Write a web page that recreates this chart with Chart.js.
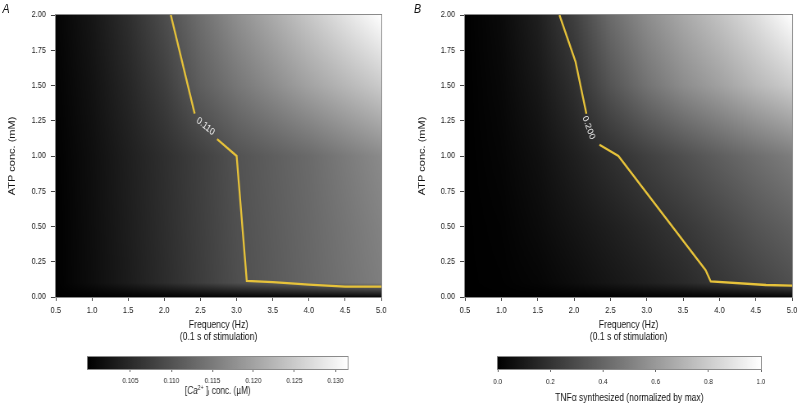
<!DOCTYPE html>
<html>
<head>
<meta charset="utf-8">
<script src="https://cdn.jsdelivr.net/npm/chart.js@4.4.1/dist/chart.umd.min.js"></script>
<style>
  html, body { margin: 0; padding: 0; background: #fff; overflow: hidden; }
  /* the figure is squeezed horizontally, like the source image */
  #wrap { position: relative; width: 976px; height: 404px; transform: scaleX(0.82); transform-origin: 0 0; }
  .box { position: absolute; }
  .tag { position: absolute; font: italic 13px 'Liberation Sans', Arial, sans-serif; color: #111; }
</style>
</head>
<body>
<div id="wrap">
  <div class="tag" style="left:3px;top:1px">A</div>
  <div class="tag" style="left:505px;top:1px">B</div>
  <div class="box" style="left:0;top:0;width:488px;height:345px"><canvas id="heatA" width="488" height="345"></canvas></div>
  <div class="box" style="left:488px;top:0;width:488px;height:345px"><canvas id="heatB" width="488" height="345"></canvas></div>
  <div class="box" style="left:73px;top:345px;width:390px;height:59px"><canvas id="barA" width="390" height="59"></canvas></div>
  <div class="box" style="left:537px;top:345px;width:439px;height:59px"><canvas id="barB" width="439" height="59"></canvas></div>
</div>
<script>
// grid axes
var freq = [0.5, 1.0, 1.5, 2.0, 2.5, 3.0, 3.5, 4.0, 4.5, 5.0];
var atp = [0, 0.1, 0.5, 1.0, 1.5, 2.0];

// [Ca2+]i (uM), one row per ATP value
var caAtp0   = [0.0998, 0.0999, 0.1000, 0.1001, 0.1002, 0.1003, 0.1004, 0.1005, 0.1006, 0.1008];
var caAtp01  = [0.0998, 0.1014, 0.1032, 0.1052, 0.1073, 0.1095, 0.1110, 0.1125, 0.1140, 0.1155];
var caAtp05  = [0.0998, 0.1015, 0.1034, 0.1054, 0.1075, 0.1097, 0.1112, 0.1127, 0.1143, 0.1160];
var caAtp10  = [0.0999, 0.1016, 0.1036, 0.1056, 0.1077, 0.1100, 0.1115, 0.1130, 0.1150, 0.1170];
var caAtp15  = [0.1001, 0.1020, 0.1045, 0.1075, 0.1115, 0.1145, 0.1172, 0.1200, 0.1225, 0.1250];
var caAtp20  = [0.1003, 0.1025, 0.1055, 0.1093, 0.1135, 0.1175, 0.1210, 0.1245, 0.1280, 0.1315];

// TNFa synthesized (normalized by max)
var tnfAtp0  = [0, 0, 0, 0.002, 0.004, 0.006, 0.008, 0.010, 0.015, 0.020];
var tnfAtp01 = [0, 0.005, 0.020, 0.050, 0.085, 0.120, 0.160, 0.210, 0.260, 0.310];
var tnfAtp05 = [0, 0.010, 0.040, 0.080, 0.120, 0.165, 0.215, 0.270, 0.330, 0.380];
var tnfAtp10 = [0, 0.020, 0.060, 0.120, 0.185, 0.250, 0.310, 0.370, 0.430, 0.490];
var tnfAtp15 = [0, 0.030, 0.090, 0.185, 0.330, 0.450, 0.550, 0.630, 0.720, 0.800];
var tnfAtp20 = [0, 0.040, 0.120, 0.250, 0.420, 0.550, 0.660, 0.760, 0.870, 1.000];

// contour lines (freq, ATP), split where the label sits
var contourA1 = [[2.09, 2.0], [2.42, 1.30]];
var contourA2 = [[2.73, 1.12], [3.0, 1.0], [3.14, 0.115], [3.5, 0.105], [4.0, 0.088], [4.5, 0.073], [5.0, 0.073]];
var contourB1 = [[1.80, 2.0], [2.02, 1.67], [2.17, 1.30]];
var contourB2 = [[2.35, 1.08], [2.61, 1.0], [3.81, 0.19], [3.88, 0.11], [4.64, 0.085], [5.0, 0.08]];

// tick labels
var freqTicks = [0.5, 1.0, 1.5, 2.0, 2.5, 3.0, 3.5, 4.0, 4.5, 5.0];
var atpTicks = [0, 0.25, 0.5, 0.75, 1.0, 1.25, 1.5, 1.75, 2.0];
var caTicks = [0.105, 0.110, 0.115, 0.120, 0.125, 0.130];
var tnfTicks = [0, 0.2, 0.4, 0.6, 0.8, 1.0];
var caRange = [0.0998, 0.1315];
var tnfRange = [0, 1];

var FONT = "'Liberation Sans', Arial, sans-serif";
var LINE = '#e6c23a';
Chart.defaults.font.family = FONT;
Chart.defaults.color = '#222';

function grey(v, range) {
    var t = (v - range[0]) / (range[1] - range[0]);
    t = Math.max(0, Math.min(1, t));
    return Math.round(t * 255);
}

function findCell(arr, v) {
    for (var i = 0; i < arr.length - 2; i++) {
        if (v < arr[i + 1]) return i;
    }
    return arr.length - 2;
}

// bilinear shaded field between grid nodes
var heatPlugin = {
    id: 'heat',
    beforeDatasetsDraw: function (chart, args, opts) {
        var ctx = chart.ctx, a = chart.chartArea, xs = chart.scales.x, ys = chart.scales.y;
        var x0 = Math.round(a.left), y0 = Math.round(a.top);
        var w = Math.round(a.right) - x0, h = Math.round(a.bottom) - y0;
        var img = ctx.createImageData(w, h);
        var rows = opts.rows;
        for (var py = 0; py < h; py++) {
            var yv = ys.getValueForPixel(y0 + py + 0.5);
            yv = Math.max(atp[0], Math.min(atp[atp.length - 1], yv));
            var j = findCell(atp, yv);
            var ty = (yv - atp[j]) / (atp[j + 1] - atp[j]);
            for (var px = 0; px < w; px++) {
                var xv = xs.getValueForPixel(x0 + px + 0.5);
                xv = Math.max(freq[0], Math.min(freq[freq.length - 1], xv));
                var i = findCell(freq, xv);
                var tx = (xv - freq[i]) / (freq[i + 1] - freq[i]);
                var v = (rows[j][i] * (1 - tx) + rows[j][i + 1] * tx) * (1 - ty) +
                        (rows[j + 1][i] * (1 - tx) + rows[j + 1][i + 1] * tx) * ty;
                var g = grey(v, opts.range);
                var k = (py * w + px) * 4;
                img.data[k] = g; img.data[k + 1] = g; img.data[k + 2] = g; img.data[k + 3] = 255;
            }
        }
        ctx.putImageData(img, x0, y0);
    },
    afterDatasetsDraw: function (chart, args, opts) {
        var ctx = chart.ctx, a = chart.chartArea;
        var lab = opts.label;
        ctx.save();
        ctx.translate(chart.scales.x.getPixelForValue(lab.x), chart.scales.y.getPixelForValue(lab.y));
        ctx.rotate(lab.angle * Math.PI / 180);
        ctx.font = '10px ' + FONT;
        ctx.fillStyle = '#f2f2f2';
        ctx.textAlign = 'center';
        ctx.textBaseline = 'middle';
        ctx.fillText(lab.text, 0, 0);
        ctx.restore();
        ctx.save();
        ctx.strokeStyle = '#8a8a8a';
        ctx.lineWidth = 1;
        ctx.strokeRect(a.left - 0.5, a.top - 0.5, a.right - a.left + 1, a.bottom - a.top + 1);
        ctx.restore();
    }
};

// gradient bar for the colour scales
var barPlugin = {
    id: 'bar',
    beforeDatasetsDraw: function (chart, args, opts) {
        var ctx = chart.ctx, a = chart.chartArea, xs = chart.scales.x;
        var l = xs.getPixelForValue(opts.range[0]), r = xs.getPixelForValue(opts.range[1]);
        var grad = ctx.createLinearGradient(l, 0, r, 0);
        grad.addColorStop(0, '#000');
        grad.addColorStop(1, '#fff');
        ctx.save();
        ctx.fillStyle = grad;
        ctx.fillRect(l, a.top, r - l, a.bottom - a.top);
        ctx.strokeStyle = '#8a8a8a';
        ctx.lineWidth = 1;
        ctx.strokeRect(l - 0.5, a.top - 0.5, r - l + 1, a.bottom - a.top + 1);
        ctx.restore();
    },
    afterDraw: function (chart, args, opts) {
        if (!opts.caTitle) return;
        // [Ca2+]i conc. (uM) with italic / super / subscripts
        var ctx = chart.ctx, a = chart.chartArea;
        var parts = [
            ['[', '10px ' + FONT, 0],
            ['Ca', 'italic 10px ' + FONT, 0],
            ['2+', '6.5px ' + FONT, -3],
            [' ]', '10px ' + FONT, 0],
            ['i', '6.5px ' + FONT, 2.5],
            [' conc. (\u00b5M)', '10px ' + FONT, 0]
        ];
        ctx.save();
        ctx.fillStyle = '#222';
        ctx.textBaseline = 'middle';
        ctx.textAlign = 'left';
        var total = 0;
        parts.forEach(function (p) { ctx.font = p[1]; total += ctx.measureText(p[0]).width; });
        var x = (a.left + a.right) / 2 - total / 2, y = 46;
        parts.forEach(function (p) {
            ctx.font = p[1];
            ctx.fillText(p[0], x, y + p[2]);
            x += ctx.measureText(p[0]).width;
        });
        ctx.restore();
    }
};

function setTicks(arr) {
    return function (scale) {
        scale.ticks = arr.map(function (v) { return { value: v }; });
    };
}

function toPts(arr) {
    return arr.map(function (p) { return { x: p[0], y: p[1] }; });
}

function lineSet(arr) {
    return {
        data: toPts(arr),
        showLine: true,
        borderColor: LINE,
        borderWidth: 2.3,
        pointRadius: 0,
        tension: 0
    };
}

function heatChart(id, rows, range, parts, label, axisW, rightPad, titlePad) {
    return new Chart(document.getElementById(id), {
        type: 'scatter',
        data: { datasets: parts.map(lineSet) },
        options: {
            responsive: false,
            animation: false,
            events: [],
            layout: { padding: { left: 0, right: rightPad, top: 15, bottom: 0 } },
            plugins: {
                legend: { display: false },
                tooltip: { enabled: false },
                heat: { rows: rows, range: range, label: label }
            },
            scales: {
                x: {
                    type: 'linear', min: 0.5, max: 5.0,
                    afterBuildTicks: setTicks(freqTicks),
                    afterFit: function (s) { s.height = 48; },
                    grid: { display: true, drawOnChartArea: false, drawTicks: true, tickLength: 4, color: '#444' },
                    border: { display: false },
                    ticks: { padding: 3.5, font: { size: 9.3 }, maxRotation: 0, autoSkip: false,
                        callback: function (v) { return v.toFixed(1); } },
                    title: { display: true, text: ['Frequency (Hz)', '(0.1 s of stimulation)'], color: '#111',
                        font: { size: 10.5, lineHeight: 1.15 }, padding: { top: 0, bottom: 2 } }
                },
                y: {
                    type: 'linear', min: 0, max: 2.0,
                    afterBuildTicks: setTicks(atpTicks),
                    afterFit: function (s) { s.width = axisW; },
                    grid: { display: true, drawOnChartArea: false, drawTicks: true, tickLength: 6, color: '#444' },
                    border: { display: false },
                    ticks: { padding: 6, font: { size: 9 }, autoSkip: false,
                        callback: function (v) { return v.toFixed(2); } },
                    title: { display: true, text: 'ATP conc. (mM)', color: '#111',
                        font: { size: 11, lineHeight: 1.0 }, padding: { top: titlePad, bottom: 0 } }
                }
            }
        },
        plugins: [heatPlugin]
    });
}

function barChart(id, range, ticks, decimals, padL, padR, tickPad, title) {
    return new Chart(document.getElementById(id), {
        type: 'scatter',
        data: { datasets: [{ data: [] }] },
        options: {
            responsive: false,
            animation: false,
            events: [],
            layout: { padding: { left: padL, right: padR, top: 12, bottom: 0 } },
            plugins: {
                legend: { display: false },
                tooltip: { enabled: false },
                bar: { range: range, caTitle: !title }
            },
            scales: {
                x: {
                    type: 'linear', min: range[0], max: range[1],
                    afterBuildTicks: setTicks(ticks),
                    afterFit: function (s) { s.height = 35; },
                    grid: { display: true, drawOnChartArea: false, drawTicks: true, tickLength: 3, color: '#555' },
                    border: { display: false },
                    ticks: { padding: tickPad, font: { size: 7.8 }, maxRotation: 0, autoSkip: false,
                        callback: function (v) { return v.toFixed(decimals); } },
                    title: { display: !!title, text: title || '', color: '#111',
                        font: { size: 10.4, lineHeight: 1.0 }, padding: { top: 0, bottom: 1 } }
                },
                y: { display: false, min: 0, max: 1 }
            }
        },
        plugins: [barPlugin]
    });
}

heatChart('heatA', [caAtp0, caAtp01, caAtp05, caAtp10, caAtp15, caAtp20], caRange,
    [contourA1, contourA2], { text: '0.110', x: 2.57, y: 1.21, angle: 35 }, 68, 23, 9);
heatChart('heatB', [tnfAtp0, tnfAtp01, tnfAtp05, tnfAtp10, tnfAtp15, tnfAtp20], tnfRange,
    [contourB1, contourB2], { text: '0.200', x: 2.20, y: 1.20, angle: 66 }, 79, 9, 21);
barChart('barA', caRange, caTicks, 3, 34, 39, 4, null);
barChart('barB', tnfRange, tnfTicks, 1, 70, 48, 5, 'TNF\u03b1 synthesized (normalized by max)');
</script>
</body>
</html>
